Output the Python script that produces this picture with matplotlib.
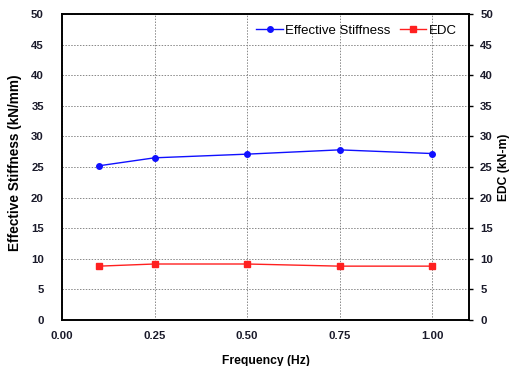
import matplotlib
matplotlib.use("Agg")
import matplotlib.pyplot as plt

freq = [0.1, 0.25, 0.5, 0.75, 1.0]
stiffness = [25.2, 26.5, 27.1, 27.8, 27.2]
edc = [8.8, 9.15, 9.15, 8.8, 8.8]
x_ticks = [0.0, 0.25, 0.5, 0.75, 1.0]
y_ticks = [0, 5, 10, 15, 20, 25, 30, 35, 40, 45, 50]

plt.rcParams['font.family'] = ['Liberation Sans', 'DejaVu Sans']

W, H = 512, 366
fig = plt.figure(figsize=(W / 100, H / 100), dpi=100)
ax = fig.add_axes([62 / W, 1 - 320 / H, (469 - 62) / W, (320 - 14) / H])
ax2 = ax.twinx()

l1, = ax.plot(freq, stiffness, color='#1010ff', marker='o', markersize=4, linewidth=1.0,
              label='Effective Stiffness')
l2, = ax2.plot(freq, edc, color='#ff2020', marker='s', markersize=4, linewidth=1.0,
               label='EDC')

ax.set_xlim(0, 1.1)
ax.set_ylim(0, 50)
ax2.set_ylim(0, 50)
ax.set_xticks(x_ticks)
ax.set_xticklabels([f"{v:.2f}" for v in x_ticks])
ax.set_yticks(y_ticks)
ax2.set_yticks(y_ticks)

ax.grid(True, color='#888888', linestyle=(0, (1.5, 1.5)), linewidth=0.7)
ax.set_axisbelow(True)

tc = '#1a1a2a'
for a in (ax, ax2):
    for lab in a.get_xticklabels() + a.get_yticklabels():
        lab.set_fontweight('bold')
        lab.set_fontsize(8.2)
        lab.set_color(tc)
    for s in a.spines.values():
        s.set_linewidth(1.2)
        s.set_color('black')

ax.tick_params(axis='x', length=0, pad=8)
ax.tick_params(axis='y', length=0, pad=13)
ax2.tick_params(axis='y', direction='out', length=3, width=1, pad=5)

ax.set_xlabel('Frequency (Hz)', fontsize=8.7, fontweight='bold', labelpad=10)
fig.text(15 / W, 1 - 163 / H, 'Effective Stiffness (kN/mm)', rotation=90, fontsize=9.8,
         fontweight='bold', ha='center', va='center')
fig.text(504 / W, 1 - 167 / H, 'EDC (kN-m)', rotation=90, fontsize=8.7, fontweight='bold',
         ha='center', va='center')

ax.legend([l1, l2], ['Effective Stiffness', 'EDC'], loc='upper right', frameon=False,
          fontsize=9.5, ncol=2, handlelength=2.0, columnspacing=0.7, handletextpad=0.2,
          bbox_to_anchor=(1.0, 1.005))

fig.savefig('out.png', dpi=100)
